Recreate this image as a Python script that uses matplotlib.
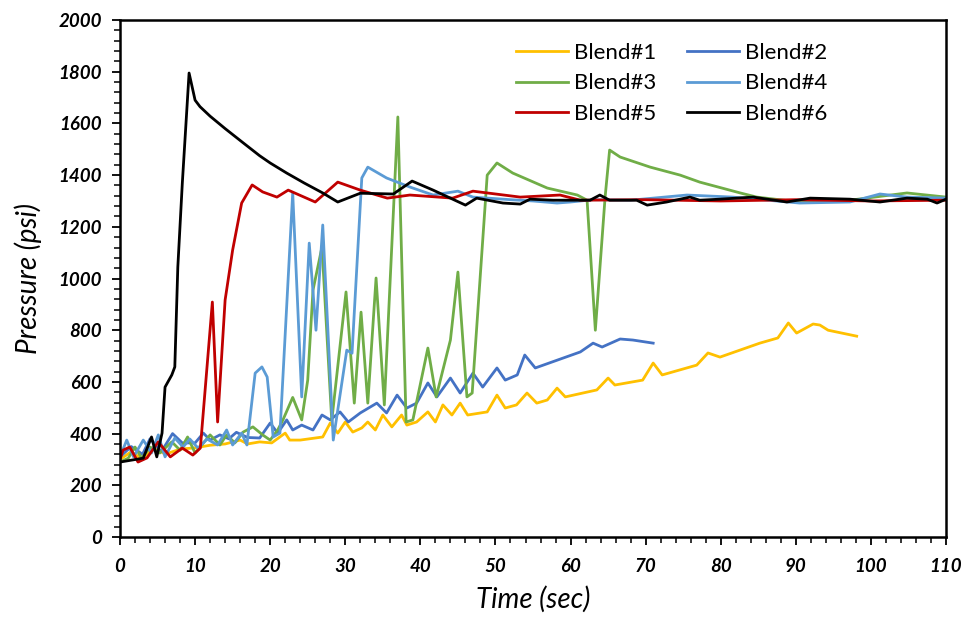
import matplotlib
matplotlib.use("Agg")
import matplotlib.pyplot as plt
from matplotlib.ticker import MultipleLocator

plt.rcParams['font.family'] = ['Lato', 'DejaVu Sans']

# Blend#1 (yellow)
t1 = [0, 1.5, 3, 4.5, 6, 8, 10, 12, 14, 16, 17, 18.6, 20.2, 22, 22.6, 24, 27, 28, 29, 30, 31,
      32.2, 33, 34, 35, 36.2, 37.5, 38.2, 39.5, 41, 42, 43, 44.2, 45.3, 46.3, 48.9, 50.2, 51.3,
      52.8, 54.2, 55.5, 56.9, 58.2, 59.3, 63.5, 65, 65.9, 69.6, 71, 72.2, 76.8, 78.3, 79.9,
      85.2, 87.6, 89, 90.1, 92.3, 93.2, 94.3, 98.1]
p1 = [300, 330, 300, 350, 320, 340, 345, 355, 360, 375, 360, 368, 364, 402, 375, 375, 387, 441,
      402, 445, 406, 422, 445, 414, 472, 426, 472, 433, 445, 484, 445, 511, 472, 518, 472, 484,
      549, 499, 511, 557, 518, 530, 576, 542, 569, 615, 588, 607, 673, 627, 665, 712, 696,
      750, 770, 828, 789, 824, 820, 800, 777]

# Blend#2 (dark blue)
t2 = [0, 1.5, 3, 4, 5.5, 7, 8.3, 10, 11.1, 12, 13.3, 14.5, 15.5, 17, 18.6, 20, 21, 22.2, 23,
      24.2, 25.7, 26.9, 28, 29.3, 30.4, 32, 34.2, 35.5, 36.9, 38.2, 39.5, 41, 42.2, 44, 45.3,
      47, 48.3, 50.2, 51.3, 52.9, 53.9, 55.3, 61.3, 63, 64.2, 66.6, 68.3, 71]
p2 = [310, 350, 320, 380, 330, 400, 364, 364, 402, 375, 395, 380, 405, 385, 383, 441, 402, 453,
      414, 433, 414, 472, 453, 484, 445, 480, 518, 480, 549, 499, 518, 596, 542, 615, 557,
      634, 580, 654, 607, 627, 704, 654, 716, 750, 735, 766, 762, 750]

# Blend#3 (green)
t3 = [0, 1.1, 2, 2.9, 4, 5.3, 6.9, 8, 9, 10, 12, 13.3, 14.2, 15.3, 16.4, 17.7, 19, 20, 21,
      21.7, 23, 24.2, 25, 25.7, 26.9, 28.2, 30.1, 31.2, 32.1, 33, 34.1, 35.2, 37, 38.1, 39,
      41, 42.1, 44, 45, 46.2, 46.9, 48.9, 50.2, 52.3, 56.9, 60.9, 62.2, 63.3, 64.6, 65.2,
      66.6, 70.6, 74.6, 77.2, 82.6, 84.8, 90.5, 97.2, 104.8, 110]
p3 = [290, 305, 348, 305, 348, 325, 368, 336, 387, 325, 395, 356, 395, 364, 406, 426, 395, 375,
      414, 453, 540, 453, 607, 955, 1122, 450, 948, 518, 870, 518, 1002, 511, 1625, 445, 453,
      731, 542, 762, 1025, 542, 557, 1400, 1447, 1408, 1350, 1323, 1303, 800, 1315, 1497,
      1470, 1431, 1400, 1373, 1331, 1315, 1296, 1303, 1331, 1315]

# Blend#4 (light blue)
t4 = [0, 0.9, 1.8, 3.1, 4.2, 5.1, 6, 7.3, 8.4, 9.3, 10.4, 11.6, 13, 14.2, 15, 16.2, 16.9, 18,
      18.9, 19.6, 20.4, 21.3, 23, 24.2, 25.2, 26.1, 27, 28.4, 30.2, 30.9, 32.2, 33, 35.5,
      38.6, 41.7, 45, 47, 52, 55, 58.2, 60, 63, 68, 75.5, 81.6, 90.5, 97.2, 101.2, 104.8, 110]
p4 = [310, 375, 310, 375, 325, 395, 310, 383, 348, 379, 344, 379, 356, 414, 356, 402, 356, 634,
      658, 619, 387, 402, 1331, 542, 1137, 800, 1207, 375, 723, 711, 1389, 1431, 1389,
      1354, 1323, 1338, 1315, 1305, 1300, 1292, 1296, 1305, 1303, 1323, 1315, 1292, 1296,
      1327, 1315, 1311]

# Blend#5 (red)
t5 = [0, 0.4, 1.3, 2.4, 3.6, 5.1, 6.7, 8.3, 9.7, 10.7, 12.3, 13, 14, 15, 16.2, 17.6, 19, 20.9,
      22.4, 26, 29, 32, 35.6, 38.6, 44.3, 47, 53.3, 58.6, 61.3, 70, 80, 90, 100, 110]
p5 = [300, 336, 348, 290, 306, 368, 310, 344, 317, 344, 909, 445, 917, 1110, 1292, 1362, 1335,
      1315, 1342, 1296, 1373, 1342, 1311, 1323, 1311, 1338, 1315, 1323, 1303, 1305, 1300,
      1305, 1300, 1303]

# Blend#6 (black)
t6 = [0, 3.1, 4.2, 4.9, 5.6, 6, 6.9, 7.3, 7.7, 8.3, 9.2, 10, 10.65, 12, 14, 16.4, 18.6, 20,
      22.2, 24.5, 27, 29, 32, 36.4, 38.9, 41.7, 46, 47.5, 51, 53.3, 54.6, 57.7, 62.6, 63.9,
      65.2, 68.8, 70.2, 72.8, 75.9, 77.2, 79.9, 84.3, 88.8, 91.9, 97.2, 101.2, 104.8, 107.5,
      108.8, 110]
p6 = [290, 305, 387, 310, 402, 580, 627, 658, 1044, 1369, 1795, 1690, 1665, 1628, 1580, 1525,
      1475, 1447, 1408, 1370, 1331, 1296, 1330, 1327, 1377, 1342, 1284, 1311, 1292, 1288,
      1307, 1303, 1303, 1323, 1303, 1303, 1284, 1296, 1315, 1303, 1307, 1315, 1296, 1311,
      1307, 1296, 1311, 1307, 1292, 1307]

labels = ["Blend#1", "Blend#2", "Blend#3", "Blend#4", "Blend#5", "Blend#6"]
colors = ["#FFC000", "#4472C4", "#70AD47", "#5B9BD5", "#C00000", "#000000"]
series = [(t1, p1), (t2, p2), (t3, p3), (t4, p4), (t5, p5), (t6, p6)]

fig = plt.figure(figsize=(9.7, 6.3), dpi=100)
ax = fig.add_axes([0.1237, 0.1476, 0.8516, 0.8206])

for (t, p), lab, c in zip(series, labels, colors):
    ax.plot(t, p, color=c, lw=2.0, label=lab, solid_joinstyle='round')

ax.set_xlim(0, 110)
ax.set_ylim(0, 2000)
ax.xaxis.set_major_locator(MultipleLocator(10))
ax.xaxis.set_minor_locator(MultipleLocator(2))
ax.yaxis.set_major_locator(MultipleLocator(200))
ax.yaxis.set_minor_locator(MultipleLocator(40))
ax.tick_params(which='major', direction='out', length=6, width=1.3)
ax.tick_params(which='minor', direction='out', length=4, width=1.1)
ax.tick_params(axis='x', which='major', pad=9)
ax.tick_params(axis='y', which='major', pad=7)
for s in ax.spines.values():
    s.set_linewidth(1.8)

for lbl in ax.get_xticklabels() + ax.get_yticklabels():
    lbl.set_fontsize(13.5)
    lbl.set_fontweight('bold')
    lbl.set_fontstyle('italic')

ax.set_xlabel("Time (sec)", fontsize=20, fontstyle='italic', labelpad=8)
ax.set_ylabel("Pressure (psi)", fontsize=20, fontstyle='italic', labelpad=12)

# legend order in columns: #1,#3,#5 | #2,#4,#6
h, l = ax.get_legend_handles_labels()
order = [0, 2, 4, 1, 3, 5]
ax.legend([h[i] for i in order], [l[i] for i in order], ncol=2, frameon=False,
          fontsize=16, loc='upper left', bbox_to_anchor=(0.455, 0.995),
          handlelength=2.35, handletextpad=0.25, columnspacing=1.4, labelspacing=0.48)

fig.savefig("out.png", dpi=100)
